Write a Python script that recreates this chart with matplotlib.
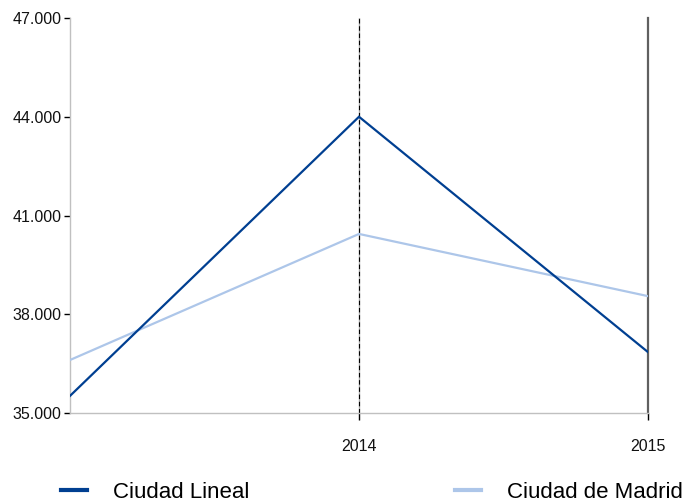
import matplotlib
matplotlib.use("Agg")
import matplotlib.pyplot as plt
from matplotlib.lines import Line2D
from matplotlib.ticker import FuncFormatter

years = [2013, 2014, 2015]
tick_years = [2014, 2015]
ciudad_lineal = [35520, 44000, 36850]
ciudad_madrid = [36610, 40440, 38550]
y_ticks = [35000, 38000, 41000, 44000, 47000]
series_names = ["Ciudad Lineal", "Ciudad de Madrid"]

plt.rcParams['font.family'] = ['Liberation Sans', 'DejaVu Sans']

fig = plt.figure(figsize=(6.85, 5.03), dpi=100)
ax = fig.add_axes([70/685, 1-413/503, (648-70)/685, (413-18)/503])

c_dark = "#003f91"
c_light = "#adc6e9"

# vertical reference lines
ax.axvline(2014, color="#aaaaaa", lw=1.0, zorder=1)
ax.axvline(2014, color="black", lw=0.8, ls=(0, (4, 2.5)), zorder=1.5)
ax.axvline(2015, color="#606060", lw=1.6, zorder=1, clip_on=False)

ax.plot(years, ciudad_madrid, color=c_light, lw=1.6, zorder=3, solid_joinstyle='miter')
ax.plot(years, ciudad_lineal, color=c_dark, lw=1.6, zorder=4, solid_joinstyle='miter')

ax.set_xlim(2013, 2015)
ax.set_ylim(35000, 47000)
ax.set_xticks(tick_years)
ax.set_xticklabels([str(y) for y in tick_years])
ax.set_yticks(y_ticks)
ax.yaxis.set_major_formatter(FuncFormatter(lambda v, p: f"{int(v):,}".replace(",", ".")))

for s in ["top", "right"]:
    ax.spines[s].set_visible(False)
for s in ["left", "bottom"]:
    ax.spines[s].set_color("#c0c0c0")
    ax.spines[s].set_linewidth(1.0)

ax.tick_params(axis="y", length=4, width=1, color="black", pad=2, labelsize=11.5, labelcolor="#111111")
ax.tick_params(axis="x", length=5, width=1, color="black", pad=14, labelsize=11.5, labelcolor="#111111")

handles = [Line2D([], [], color=c_dark, lw=3),
           Line2D([], [], color=c_light, lw=3)]
fig.legend(handles[:1], series_names[:1], loc="center left", bbox_to_anchor=(61/685, 1-492/503),
           frameon=False, fontsize=16, handlelength=1.15, handletextpad=1.2, borderaxespad=0, borderpad=0)
fig.legend(handles[1:], series_names[1:], loc="center left", bbox_to_anchor=(455/685, 1-492/503),
           frameon=False, fontsize=16, handlelength=1.15, handletextpad=1.2, borderaxespad=0, borderpad=0)

fig.savefig("out.png", dpi=100)
